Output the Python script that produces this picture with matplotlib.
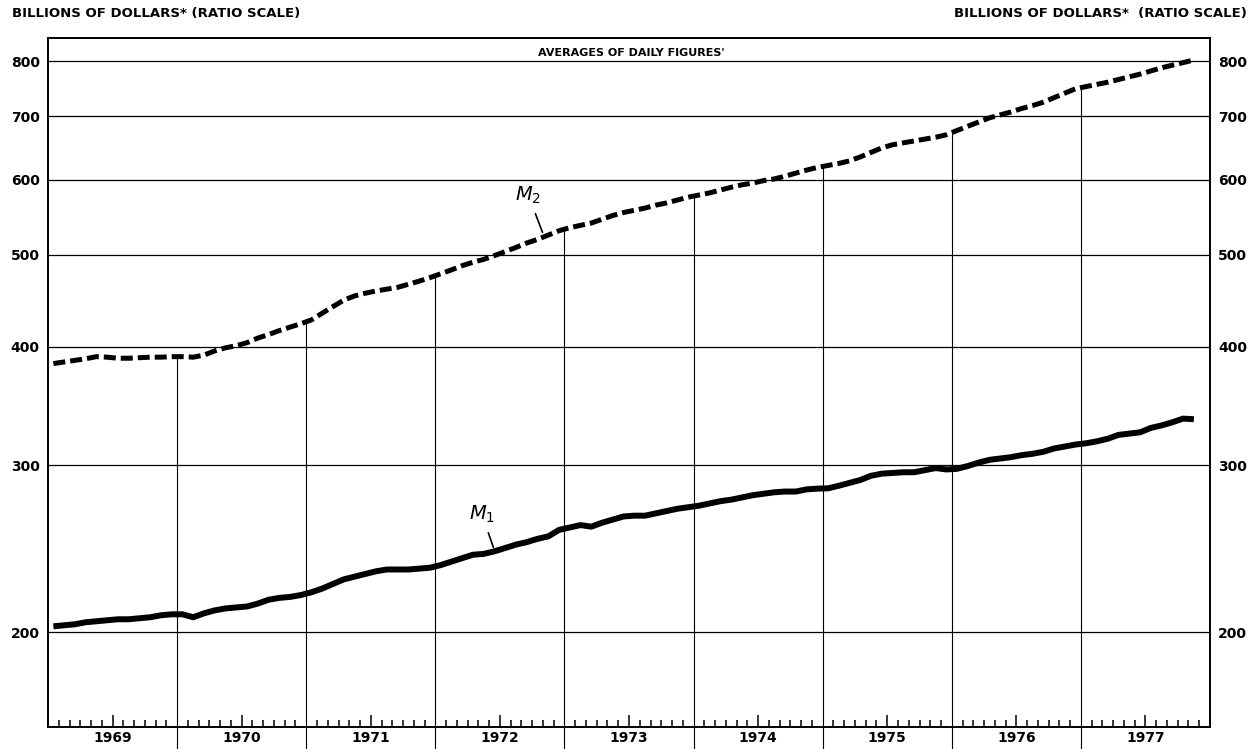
import numpy as np
import matplotlib.pyplot as plt
from matplotlib.ticker import FixedLocator, NullLocator, NullFormatter

# === DATA (monthly, Jan 1969 - Nov 1977, billions of dollars) ===
years = list(range(1969, 1978))
m1 = [
    203, 203.5, 204, 205, 205.5, 206, 206.5, 206.5, 207, 207.5, 208.5, 209,            # 1969
    209, 207.5, 209.5, 211, 212, 212.5, 213, 214.5, 216.5, 217.5, 218, 219,            # 1970
    220.5, 222.5, 225, 227.5, 229, 230.5, 232, 233, 233, 233, 233.5, 234,              # 1971
    235.5, 237.5, 239.5, 241.5, 242, 243.5, 245.5, 247.5, 249, 251, 252.5, 256.5,      # 1972
    258, 259.5, 258.5, 261, 263, 265, 265.5, 265.5, 267, 268.5, 270, 271,              # 1973
    272, 273.5, 275, 276, 277.5, 279, 280, 281, 281.5, 281.5, 283, 283.5,              # 1974
    283.7, 285.5, 287.5, 289.5, 292.5, 294, 294.5, 295, 295, 296.5, 298, 297,          # 1975
    297.5, 299.5, 302, 304, 305, 306, 307.5, 308.5, 310, 312.5, 314, 315.5,            # 1976
    316.5, 318, 320, 323, 324, 325, 328.5, 330.5, 333, 336, 335.5,                     # 1977
]
m2 = [
    384, 385.5, 387, 388.5, 390.5, 390, 389, 389, 389.5, 390, 390, 390.5,              # 1969
    390.5, 390, 392, 396, 399, 401, 404, 408.5, 412, 416, 419.5, 423,                  # 1970
    427, 434, 441, 448, 452.5, 455.5, 458, 460, 462, 465.5, 469, 473,                  # 1971
    477.5, 482, 487, 491, 494.5, 499, 504, 509, 514.5, 519, 524.5, 530,                # 1972
    534, 537, 540, 545, 550, 554, 557, 560, 564, 567, 571, 575,                        # 1973
    578, 581, 585, 589, 592.5, 595, 598.5, 601, 605, 609.5, 614, 618,                  # 1974
    621, 624, 628, 634, 641, 648, 653, 656, 659, 662, 665, 669,                        # 1975
    676, 683, 690, 697, 702, 707, 713, 718, 724, 732, 740, 748,                        # 1976
    752, 756, 760, 765, 770, 775, 781, 787, 792, 797, 802,                             # 1977
]
grid_vals = [200, 300, 400, 500, 600, 700, 800]

months = 1969 + (np.arange(len(m1)) + 0.5) / 12

# === FIGURE ===
fig = plt.figure(figsize=(12.49, 7.49), dpi=100)
ax = fig.add_axes([48 / 1249, 22 / 749, 1162 / 1249, 689 / 749])
ax.set_yscale("log")
ax.set_xlim(1969, 1978)
ax.set_ylim(159, 846)

font = dict(family="DejaVu Sans", weight="bold")

# horizontal grid
ax.hlines(grid_vals, 1969, 1978, color="black", lw=0.9, zorder=1)

# year separators: from below the axis up to the M2 curve
for yr in years[1:]:
    top = np.interp(yr, months, m2)
    ax.vlines(yr, 150, top, color="black", lw=0.8, clip_on=False, zorder=1)

# series
ax.plot(months, m1, color="black", lw=4.3, solid_capstyle="butt", zorder=3)
ax.plot(months, m2, color="black", lw=3.6, dashes=(2.4, 1.0), zorder=3)

# labels on the curves
ax.annotate(r"$M_2$", xy=(1972.83, 528), xytext=(1972.72, 578),
            ha="center", va="center", fontsize=14,
            arrowprops=dict(arrowstyle="-", color="black", lw=1.2, shrinkA=4, shrinkB=0))
ax.annotate(r"$M_1$", xy=(1972.45, 245.8), xytext=(1972.36, 266.5),
            ha="center", va="center", fontsize=14,
            arrowprops=dict(arrowstyle="-", color="black", lw=1.2, shrinkA=4, shrinkB=0))

ax.text(1973.516, 806, "AVERAGES OF DAILY FIGURES'", ha="center", va="bottom",
        fontsize=8, **font)

# y axis: labels both sides, no tick marks
ax.yaxis.set_major_locator(FixedLocator(grid_vals))
ax.set_yticklabels([str(v) for v in grid_vals])
ax.yaxis.set_minor_locator(NullLocator())
ax.yaxis.set_minor_formatter(NullFormatter())
ax.tick_params(axis="y", which="both", length=0, labelleft=True, labelright=True, pad=6)
for lab in ax.get_yticklabels():
    lab.set_fontsize(10)
    lab.set_fontweight("bold")

# x axis: month ticks inside, taller at mid-year, year labels
ax.set_xticks([y + 0.5 for y in years])
ax.set_xticklabels([str(y) for y in years])
minor = [y + k / 12 for y in years for k in range(1, 12) if k != 6]
ax.xaxis.set_minor_locator(FixedLocator(minor))
ax.tick_params(axis="x", which="major", direction="in", length=8.5, width=1.1, pad=3)
ax.tick_params(axis="x", which="minor", direction="in", length=5, width=1.1)
for lab in ax.get_xticklabels():
    lab.set_fontsize(10)
    lab.set_fontweight("bold")

for sp in ax.spines.values():
    sp.set_linewidth(1.4)

fig.text(12 / 1249, 1 - 13 / 749, "BILLIONS OF DOLLARS* (RATIO SCALE)",
         ha="left", va="center", fontsize=9.5, **font)
fig.text(1247 / 1249, 1 - 13 / 749, "BILLIONS OF DOLLARS*  (RATIO SCALE)",
         ha="right", va="center", fontsize=9.5, **font)

fig.savefig("out.png", dpi=100)
